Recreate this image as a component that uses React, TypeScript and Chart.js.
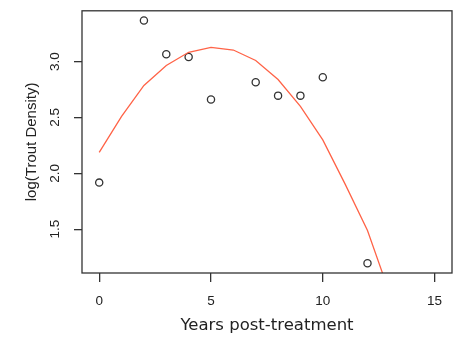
import React, { useEffect, useRef } from "react";
import { Chart, registerables } from "chart.js";

Chart.register(...registerables);

const years = [0, 2, 3, 4, 5, 7, 8, 9, 10, 12];
const logDensity = [1.917, 3.367, 3.065, 3.041, 2.66, 2.815, 2.695, 2.695, 2.86, 1.195];

const fitYears = [0, 1, 2, 3, 4, 5, 6, 7, 8, 9, 10, 11, 12, 13];
const fitValues = [2.188, 2.51, 2.786, 2.965, 3.083, 3.127, 3.103, 3.009, 2.839, 2.599, 2.299, 1.903, 1.489, 0.92];

const xTicks = [0, 5, 10, 15];
const yTicks = [1.5, 2.0, 2.5, 3.0];

const xLabel = "Years post-treatment";
const yLabel = "log(Trout Density)";

export default function App() {
  const ref = useRef<HTMLCanvasElement>(null);
  useEffect(() => {
    document.body.style.margin = "0";
    const canvas = ref.current!;
    const boxPlugin = {
      id: "boxAndYLabels",
      afterDraw(chart: any) {
        const { ctx, chartArea, scales } = chart;
        ctx.save();
        ctx.strokeStyle = "#333";
        ctx.lineWidth = 1.3;
        ctx.strokeRect(chartArea.left, chartArea.top, chartArea.right - chartArea.left, chartArea.bottom - chartArea.top);
        ctx.fillStyle = "#222";
        ctx.font = "13.5px 'Liberation Sans', Arial, sans-serif";
        ctx.textAlign = "center";
        ctx.textBaseline = "middle";
        for (const v of yTicks) {
          const y = scales.y.getPixelForValue(v);
          ctx.save();
          ctx.translate(55, y);
          ctx.rotate(-Math.PI / 2);
          ctx.fillText(v.toFixed(1), 0, 0);
          ctx.restore();
        }
        ctx.restore();
      },
    };
    const chart = new Chart(canvas, {
      type: "scatter",
      data: {
        datasets: [
          {
            data: fitYears.map((x, i) => ({ x, y: fitValues[i] })),
            showLine: true,
            borderColor: "#FF6347",
            borderWidth: 1.3,
            pointRadius: 0,
            fill: false,
          },
          {
            data: years.map((x, i) => ({ x, y: logDensity[i] })),
            showLine: false,
            pointRadius: 3.6,
            pointBorderWidth: 1.3,
            pointBorderColor: "#333",
            pointBackgroundColor: "rgba(0,0,0,0)",
          },
        ],
      },
      options: {
        animation: false,
        responsive: false,
        maintainAspectRatio: false,
        events: [],
        layout: { padding: { left: 0, top: 6, right: 6, bottom: 0 } },
        plugins: { legend: { display: false }, tooltip: { enabled: false } },
        scales: {
          x: {
            type: "linear",
            min: -0.77,
            max: 15.78,
            afterBuildTicks: (s: any) => {
              s.ticks = xTicks.map((v) => ({ value: v }));
            },
            afterFit: (s: any) => {
              s.height = 64;
            },
            border: { display: false },
            grid: { drawOnChartArea: false, drawTicks: true, tickLength: 9, color: "#333", lineWidth: 1.3 },
            ticks: {
              color: "#222",
              padding: 11,
              maxRotation: 0,
              font: { family: "'Liberation Sans', Arial, sans-serif", size: 13.5 },
              callback: (v: any) => String(v),
            },
            title: {
              display: true,
              text: xLabel,
              color: "#222",
              font: { family: "'DejaVu Sans', sans-serif", size: 16.5 },
              padding: { top: 0, bottom: 1 },
            },
          },
          y: {
            type: "linear",
            min: 1.108,
            max: 3.454,
            afterBuildTicks: (s: any) => {
              s.ticks = yTicks.map((v) => ({ value: v }));
            },
            afterFit: (s: any) => {
              s.width = 82;
            },
            border: { display: false },
            grid: { drawOnChartArea: false, drawTicks: true, tickLength: 8, color: "#333", lineWidth: 1.3 },
            ticks: {
              color: "rgba(0,0,0,0)",
              font: { size: 13 },
              callback: (v: any) => Number(v).toFixed(1),
            },
            title: {
              display: true,
              text: yLabel,
              color: "#222",
              font: { family: "'Liberation Sans', Arial, sans-serif", size: 15 },
              padding: { top: 22.5, bottom: 0 },
            },
          },
        },
      },
      plugins: [boxPlugin],
    });
    return () => chart.destroy();
  }, []);
  return (
    <div style={{ position: "absolute", left: 0, top: 0, width: 458, height: 337, background: "#fff" }}>
      <canvas ref={ref} width={458} height={337} style={{ width: 458, height: 337, display: "block" }} />
    </div>
  );
}
